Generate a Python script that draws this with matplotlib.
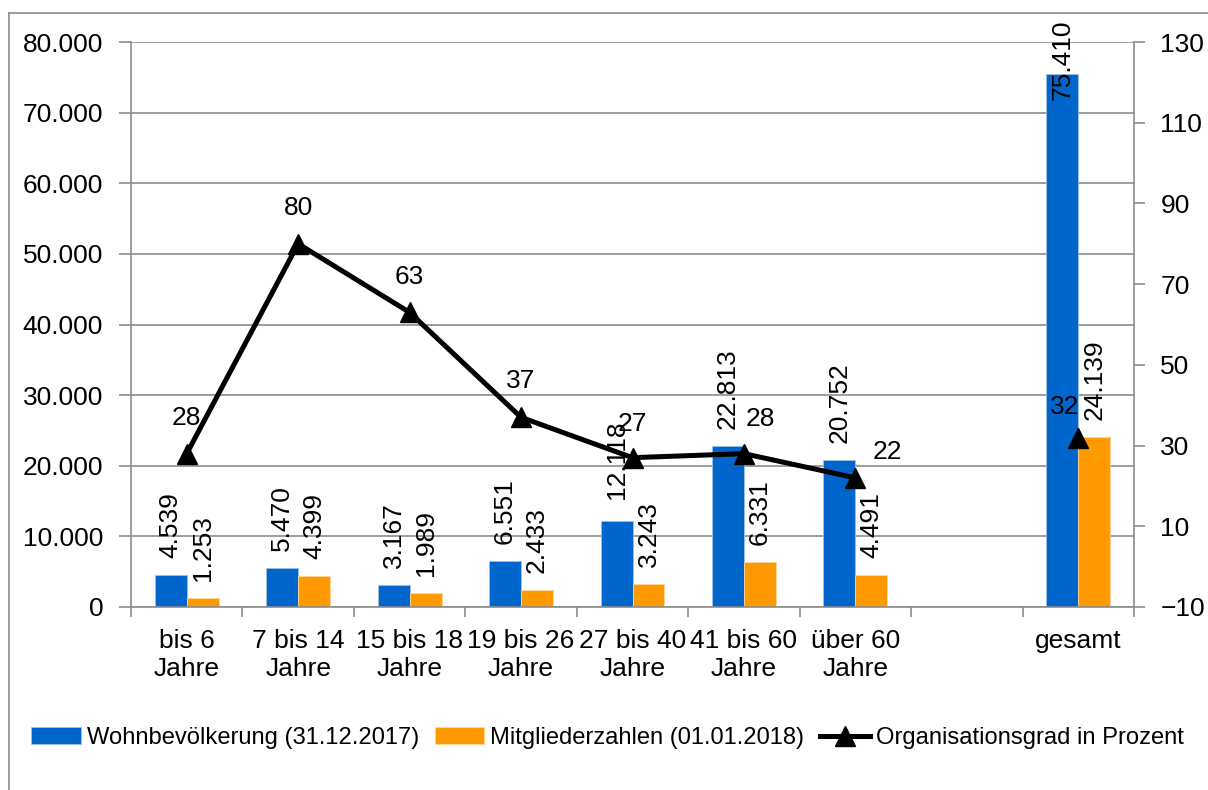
import numpy as np
import matplotlib
matplotlib.use("Agg")
import matplotlib.pyplot as plt
from matplotlib.lines import Line2D

plt.rcParams['font.family'] = ['Liberation Sans', 'DejaVu Sans']

# data
categories = ['bis 6\nJahre', '7 bis 14\nJahre', '15 bis 18\nJahre', '19 bis 26\nJahre',
              '27 bis 40\nJahre', '41 bis 60\nJahre', 'über 60\nJahre', '', 'gesamt']
wohnbev = [4539, 5470, 3167, 6551, 12118, 22813, 20752, np.nan, 75410]
mitglieder = [1253, 4399, 1989, 2433, 3243, 6331, 4491, np.nan, 24139]
orggrad = [28, 80, 63, 37, 27, 28, 22, np.nan, 32]

# label placement tweaks (pixels)
wohn_lab_dy = [17, 17, 17, 17, 22, 17, 17, 0, -26]
grad_lab_off = [(0, 36), (0, 36), (0, 35), (0, 36), (0, 34), (16, 35), (32, 26), (0, 0), (-14, 30)]

blue = '#0066CC'
orange = '#FF9900'
grey = '#8C8C8C'
fs = 19

def de(v):
    return f"{v:,.0f}".replace(',', '.')

fig = plt.figure(figsize=(12.08, 7.90), dpi=100)
ax = fig.add_axes([131/1208, 1-607/790, (1134-131)/1208, (607-42)/790])
ax2 = ax.twinx()

x = np.arange(len(categories))
w = 0.287
b1 = ax.bar(x - w/2, wohnbev, w, color=blue, edgecolor='#9DC3E6', linewidth=0.6,
            label='Wohnbevölkerung (31.12.2017)', zorder=2)
b2 = ax.bar(x + w/2, mitglieder, w, color=orange, edgecolor='#FFD699', linewidth=0.6,
            label='Mitgliederzahlen (01.01.2018)', zorder=2)

for i in range(len(x)):
    if np.isnan(wohnbev[i]):
        continue
    ax.annotate(de(wohnbev[i]), (x[i] - w/2, wohnbev[i]), xytext=(0, wohn_lab_dy[i]),
                textcoords='offset pixels', rotation=90, ha='center', va='bottom',
                fontsize=fs, annotation_clip=False, zorder=3)
    ax.annotate(de(mitglieder[i]), (x[i] + w/2, mitglieder[i]), xytext=(0, 17),
                textcoords='offset pixels', rotation=90, ha='center', va='bottom',
                fontsize=fs, annotation_clip=False, zorder=3)

ln, = ax2.plot(x, orggrad, color='black', lw=3.6, marker='^', markersize=15,
               label='Organisationsgrad in Prozent', zorder=4)
for i in range(len(x)):
    if np.isnan(orggrad[i]):
        continue
    ax2.annotate(str(orggrad[i]), (x[i], orggrad[i]), xytext=grad_lab_off[i],
                 textcoords='offset pixels', ha='center', va='center', fontsize=fs)

# left axis
ax.set_ylim(0, 80000)
ax.set_yticks(np.arange(0, 80001, 10000))
ax.set_yticklabels([de(v) for v in np.arange(0, 80001, 10000)])
ax.set_xlim(-0.5, len(categories) - 0.5)
ax.set_xticks(x)
ax.set_xticklabels(categories, fontsize=fs, linespacing=1.2)
ax.set_xticks(np.arange(-0.5, len(categories)), minor=True)
ax.tick_params(axis='x', which='major', length=0, pad=16)
ax.tick_params(axis='x', which='minor', length=7, width=1.2, color=grey)
ax.tick_params(axis='y', length=9, width=1.2, color=grey, pad=11, labelsize=fs)
ax.grid(axis='y', color=grey, lw=1.2, zorder=0)
ax.set_axisbelow(True)
for s in ['top', 'right']:
    ax.spines[s].set_visible(False)
for s in ['left', 'bottom']:
    ax.spines[s].set_color(grey)
    ax.spines[s].set_linewidth(1.2)

# right axis
ax2.set_ylim(-10, 130)
ax2.set_yticks(np.arange(-10, 131, 20))
ax2.tick_params(axis='y', length=8, width=1.2, color=grey, pad=11, labelsize=fs)
for s in ['top', 'left', 'bottom']:
    ax2.spines[s].set_visible(False)
ax2.spines['right'].set_color(grey)
ax2.spines['right'].set_linewidth(1.2)

# chart frame (left and top edges visible)
fig.add_artist(Line2D([9/1208, 9/1208], [0, 1-13/790], transform=fig.transFigure,
                      color=grey, lw=1.2))
fig.add_artist(Line2D([9/1208, 1], [1-13/790, 1-13/790], transform=fig.transFigure,
                      color=grey, lw=1.2))

fig.legend(handles=[b1, b2, ln], loc='center left', bbox_to_anchor=(31/1208, 1-738/790),
           ncol=3, frameon=False, fontsize=17.1, handlelength=2.1, handletextpad=0.25,
           columnspacing=0.65, borderpad=0, borderaxespad=0)

fig.savefig('out.png', dpi=100)
